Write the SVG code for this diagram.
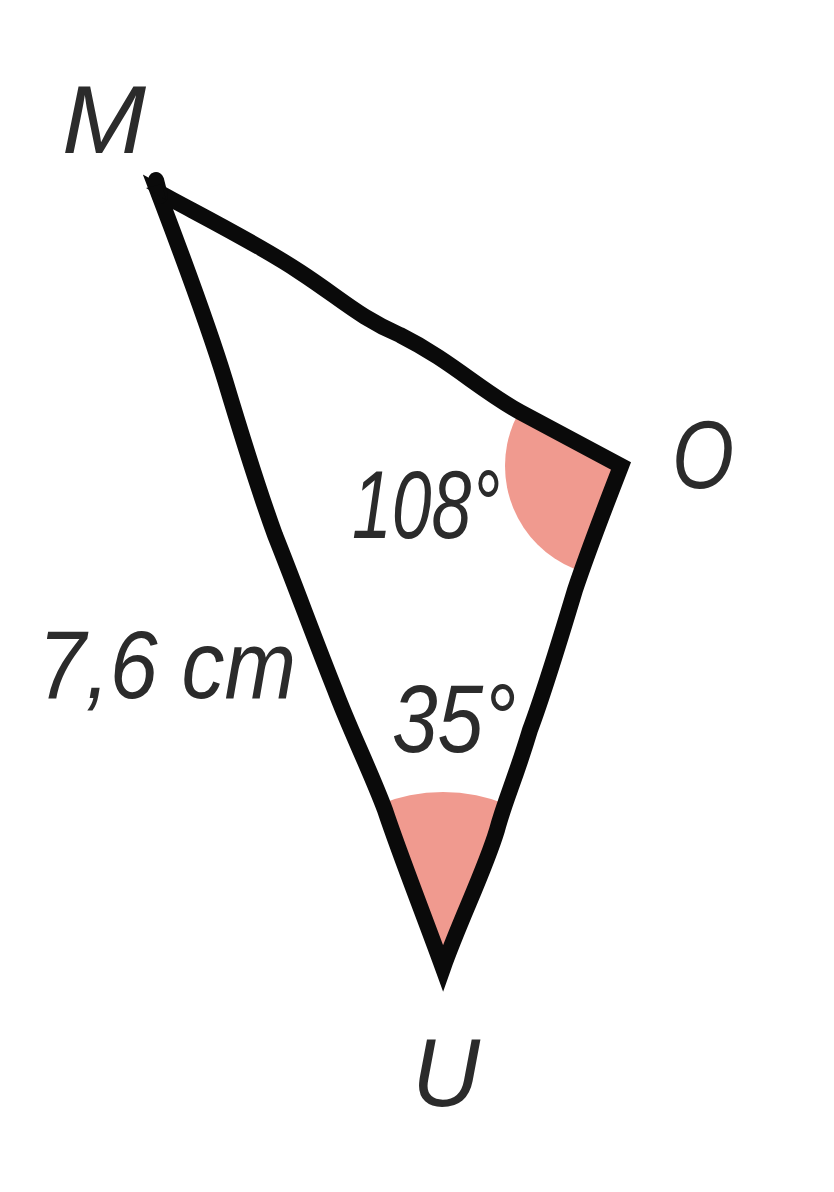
<svg xmlns="http://www.w3.org/2000/svg" width="834" height="1192" viewBox="0 0 834 1192">
<style>
.lbl{font-family:"Liberation Sans","Open Sans",sans-serif;font-style:italic;fill:#2b2b2b}
.edge{fill:none;stroke:#0a0a0a;stroke-width:16;stroke-linejoin:miter;stroke-linecap:round}
.ang{fill:#f09a8f}
</style>
<defs>
<clipPath id="tri">
<path d="M158,192 C200,215 260,245 300,272 C340,298 360,318 400,335 C450,360 480,390 520,412 L621,466 C600,520 585,560 575,590 C560,640 545,690 530,730 C515,780 505,800 497,830 C485,870 460,920 443,968 C420,905 400,855 385,810 C370,770 350,730 335,690 C315,640 295,585 275,535 C255,480 240,430 225,380 C205,315 180,250 158,192 Z"/>
</clipPath>
</defs>
<rect width="834" height="1192" fill="#fff"/>
<g id="angles" clip-path="url(#tri)">
<circle class="ang" cx="616" cy="466" r="111"/>
<circle class="ang" cx="443" cy="962" r="170"/>
</g>
<g id="triangle">
<path class="edge" d="M158,192 C200,215 260,245 300,272 C340,298 360,318 400,335 C450,360 480,390 520,412 L621,466 C600,520 585,560 575,590 C560,640 545,690 530,730 C515,780 505,800 497,830 C485,870 460,920 443,968 C420,905 400,855 385,810 C370,770 350,730 335,690 C315,640 295,585 275,535 C255,480 240,430 225,380 C205,315 180,250 158,192 Z"/>
<path class="edge" d="M156,180 L160,196"/>
<path d="M146,188 L162,184 L166,200 Z" fill="#0a0a0a"/>
</g>
<g id="labels">
<text class="lbl" x="62" y="153" font-size="96" textLength="84" lengthAdjust="spacingAndGlyphs">M</text>
<text class="lbl" x="672" y="488" font-size="96" textLength="62" lengthAdjust="spacingAndGlyphs">O</text>
<text class="lbl" x="412" y="1106" font-size="96" textLength="68" lengthAdjust="spacingAndGlyphs">U</text>
<text class="lbl" x="352" y="538" font-size="96" textLength="148" lengthAdjust="spacingAndGlyphs">108°</text>
<text class="lbl" x="392" y="752" font-size="96" textLength="124" lengthAdjust="spacingAndGlyphs">35°</text>
<text class="lbl" x="38" y="698" font-size="96" textLength="258" lengthAdjust="spacingAndGlyphs">7,6 cm</text>
</g>
</svg>
